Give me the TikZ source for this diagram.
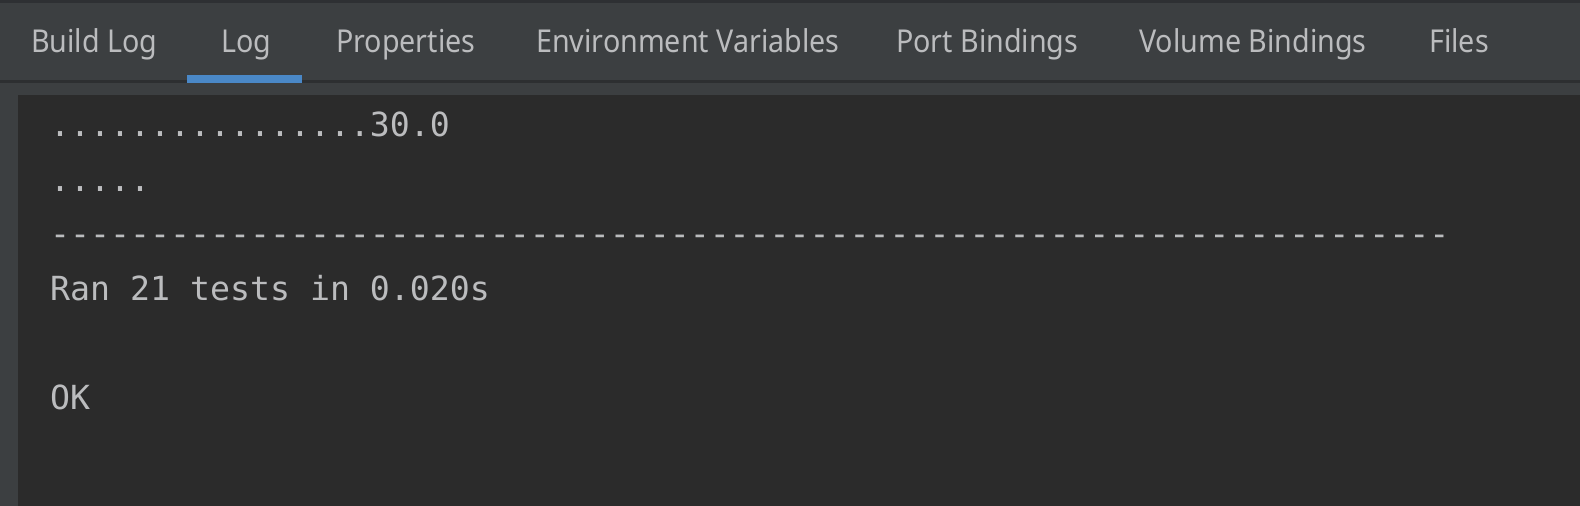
\documentclass[tikz,border=0pt]{standalone}
\usepackage{fontspec}
\newfontfamily\codefont{DejaVu Sans Mono}
\newfontfamily\tabfont[FakeStretch=0.91]{Noto Sans}
\definecolor{topline}{HTML}{2E3033}
\definecolor{tabbg}{HTML}{3C3F41}
\definecolor{sepline}{HTML}{2D2F31}
\definecolor{edbg}{HTML}{2B2B2B}
\definecolor{selblue}{HTML}{4A88C7}
\definecolor{txt}{HTML}{BBBCBE}
\begin{document}
\begin{tikzpicture}[x=1pt,y=-1pt,
  tablabel/.style={anchor=base west,inner sep=0pt,text=txt,font=\tabfont\fontsize{31.5}{36}\selectfont},
  codeline/.style={anchor=base west,inner sep=0pt,text=txt,font=\codefont\fontsize{33.2}{40}\selectfont}]
\useasboundingbox (0,0) rectangle (1580,506);
% backgrounds
\fill[tabbg] (0,0) rectangle (1580,506);
\fill[topline] (0,0) rectangle (1580,3);
\fill[sepline] (0,80) rectangle (1580,83);
\fill[selblue] (187,75) rectangle (302,83);
\fill[edbg] (18,95) rectangle (1580,506);
% tabs
\node[tablabel] (t1) at (31,52) {Build Log};
\node[tablabel] (t2) at (221,52) {Log};
\node[tablabel] (t3) at (336,52) {Properties};
\node[tablabel] (t4) at (536,52) {Environment Variables};
\node[tablabel] (t5) at (896,52) {Port Bindings};
\node[tablabel] (t6) at (1139,52) {Volume Bindings};
\node[tablabel] (t7) at (1429,52) {Files};
% log text
\node[codeline] (l1) at (50,136.5) {................30.0};
\node[codeline] (l2) at (50,191) {.....};
\node[codeline] (l3) at (50,245.5) {----------------------------------------------------------------------};
\node[codeline] (l4) at (50,300) {Ran 21 tests in 0.020s};
\node[codeline] (l6) at (50,409) {OK};
\end{tikzpicture}
\end{document}
